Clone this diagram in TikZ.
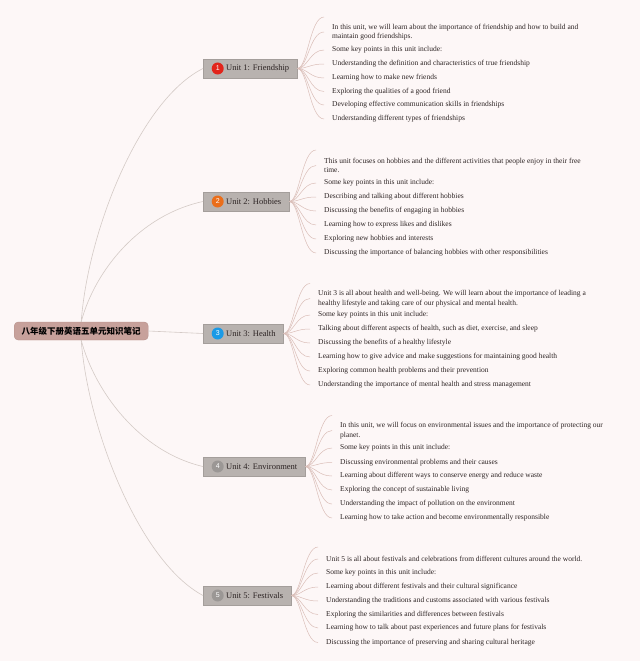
\documentclass[tikz,border=0pt]{standalone}
\usepackage{fontspec}
\setmainfont{Liberation Serif}
\newfontfamily\cjkfont{Noto Sans CJK SC}
\newfontfamily\numfont{Liberation Sans}
\usepackage{tikz}
\usetikzlibrary{positioning,calc}
\definecolor{paperpink}{RGB}{253,247,247}
\definecolor{rootrose}{RGB}{199,161,155}
\definecolor{rootedge}{RGB}{183,145,139}
\definecolor{unitgrey}{RGB}{184,178,175}
\definecolor{unitedge}{RGB}{164,158,155}
\definecolor{inkdark}{RGB}{45,36,36}
\definecolor{trunkline}{RGB}{212,202,198}
\definecolor{twigline}{RGB}{218,190,184}
\definecolor{badgered}{RGB}{226,36,27}
\definecolor{badgeorange}{RGB}{234,110,27}
\definecolor{badgeblue}{RGB}{27,154,230}
\definecolor{badgegrey}{RGB}{155,151,149}

\begin{document}
\begin{tikzpicture}[x=1pt, y=-1pt,
    rootbox/.style={rectangle, draw=rootedge, fill=rootrose, rounded corners=4pt, minimum height=18pt,
                    inner xsep=7.5pt, inner ysep=0pt, font=\cjkfont\bfseries\fontsize{8.5}{10}\selectfont, text=black},
    unitbox/.style={rectangle, draw=unitedge, fill=unitgrey, minimum height=18.5pt, anchor=west,
                    inner xsep=8pt, inner ysep=0pt, font=\fontsize{8.5}{10}\selectfont, text=inkdark},
    badge/.style={circle, minimum size=12pt, inner sep=0pt, text=white, font=\numfont\fontsize{7}{8}\selectfont},
    leaf/.style={anchor=west, align=left, inner xsep=8pt, inner ysep=1pt, yshift=-1pt,
                 font=\fontsize{7.5}{9.5}\selectfont, text=inkdark},
    trunk/.style={draw=trunkline, line width=0.6pt},
    twig/.style={draw=twigline, line width=0.5pt}
]
\useasboundingbox (0,0) rectangle (640,661);
\fill[paperpink] (0,0) rectangle (640,661);

% root and units
\node[rootbox, anchor=west] (root) at (14,331) {八年级下册英语五单元知识笔记};

\node[unitbox] (u1) at (203,68.5) {\hspace*{15pt}Unit 1: Friendship};
\node[unitbox] (u2) at (203,201.5) {\hspace*{15pt}Unit 2: Hobbies};
\node[unitbox] (u3) at (203,333.5) {\hspace*{15pt}Unit 3: Health};
\node[unitbox] (u4) at (203,466.5) {\hspace*{15pt}Unit 4: Environment};
\node[unitbox] (u5) at (203,595.5) {\hspace*{15pt}Unit 5: Festivals};

\node[badge, fill=badgered, right=8.5pt of u1.west]    (b1) {1};
\node[badge, fill=badgeorange, right=8.5pt of u2.west] (b2) {2};
\node[badge, fill=badgeblue, right=8.5pt of u3.west]   (b3) {3};
\node[badge, fill=badgegrey, right=8.5pt of u4.west]   (b4) {4};
\node[badge, fill=badgegrey, right=8.5pt of u5.west]   (b5) {5};

\draw[trunk] (root.north) .. controls (88,230) and (140,100) .. (u1.west);
\draw[trunk] (root.north) .. controls (95,270) and (140,215) .. (u2.west);
\draw[trunk] (root.east) -- (u3.west);
\draw[trunk] (root.south) .. controls (95,392) and (140,452) .. (u4.west);
\draw[trunk] (root.south) .. controls (88,430) and (140,562) .. (u5.west);

% unit 1
\node[leaf] (u1a) at (324,31) {In this unit, we will learn about the importance of friendship and how to build and\\maintain good friendships.};
\node[leaf] (u1b) at (324,49) {Some key points in this unit include:};
\node[leaf] (u1c) at (324,63) {Understanding the definition and characteristics of true friendship};
\node[leaf] (u1d) at (324,77) {Learning how to make new friends};
\node[leaf] (u1e) at (324,90.5) {Exploring the qualities of a good friend};
\node[leaf] (u1f) at (324,104) {Developing effective communication skills in friendships};
\node[leaf] (u1g) at (324,118) {Understanding different types of friendships};
\coordinate (x1) at (324,17);

% unit 2
\node[leaf] (u2a) at (316,164.5) {This unit focuses on hobbies and the different activities that people enjoy in their free\\time.};
\node[leaf] (u2b) at (316,182) {Some key points in this unit include:};
\node[leaf] (u2c) at (316,196) {Describing and talking about different hobbies};
\node[leaf] (u2d) at (316,210) {Discussing the benefits of engaging in hobbies};
\node[leaf] (u2e) at (316,224) {Learning how to express likes and dislikes};
\node[leaf] (u2f) at (316,238) {Exploring new hobbies and interests};
\node[leaf] (u2g) at (316,252) {Discussing the importance of balancing hobbies with other responsibilities};
\coordinate (x2) at (316,150);

% unit 3
\node[leaf] (u3a) at (310,297.5) {Unit 3 is all about health and well-being. We will learn about the importance of leading a\\healthy lifestyle and taking care of our physical and mental health.};
\node[leaf] (u3b) at (310,314) {Some key points in this unit include:};
\node[leaf] (u3c) at (310,328) {Talking about different aspects of health, such as diet, exercise, and sleep};
\node[leaf] (u3d) at (310,342) {Discussing the benefits of a healthy lifestyle};
\node[leaf] (u3e) at (310,356) {Learning how to give advice and make suggestions for maintaining good health};
\node[leaf] (u3f) at (310,370) {Exploring common health problems and their prevention};
\node[leaf] (u3g) at (310,384) {Understanding the importance of mental health and stress management};
\coordinate (x3) at (310,283.5);

% unit 4
\node[leaf] (u4a) at (332,429.5) {In this unit, we will focus on environmental issues and the importance of protecting our\\planet.};
\node[leaf] (u4b) at (332,447) {Some key points in this unit include:};
\node[leaf] (u4c) at (332,461.5) {Discussing environmental problems and their causes};
\node[leaf] (u4d) at (332,475) {Learning about different ways to conserve energy and reduce waste};
\node[leaf] (u4e) at (332,489) {Exploring the concept of sustainable living};
\node[leaf] (u4f) at (332,503) {Understanding the impact of pollution on the environment};
\node[leaf] (u4g) at (332,517) {Learning how to take action and become environmentally responsible};
\coordinate (x4) at (332,415.5);

% unit 5
\node[leaf] (u5a) at (318,558) {Unit 5 is all about festivals and celebrations from different cultures around the world.};
\node[leaf] (u5b) at (318,572) {Some key points in this unit include:};
\node[leaf] (u5c) at (318,586) {Learning about different festivals and their cultural significance};
\node[leaf] (u5d) at (318,600) {Understanding the traditions and customs associated with various festivals};
\node[leaf] (u5e) at (318,613.5) {Exploring the similarities and differences between festivals};
\node[leaf] (u5f) at (318,627) {Learning how to talk about past experiences and future plans for festivals};
\node[leaf] (u5g) at (318,641.5) {Discussing the importance of preserving and sharing cultural heritage};
\coordinate (x5) at (318,547);

\foreach \u in {1,...,5} {
    \draw[twig] (u\u.east) .. controls +(10,0) and +(-14,0) .. (x\u);
    \foreach \k in {a,...,g}
        \draw[twig] (u\u.east) .. controls +(10,0) and +(-14,0) .. (u\u\k.west);
}
\end{tikzpicture}
\end{document}
